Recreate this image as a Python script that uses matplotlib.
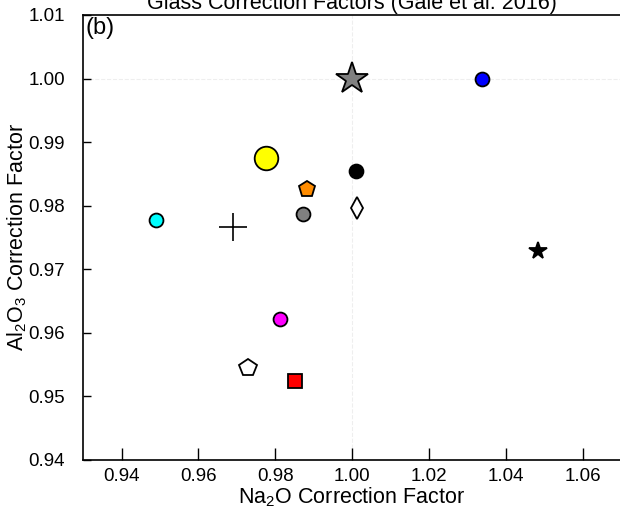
import matplotlib
matplotlib.use("Agg")
import matplotlib.pyplot as plt

plt.rcParams['font.family'] = ['Liberation Sans', 'DejaVu Sans']
plt.rcParams['mathtext.fontset'] = 'custom'
plt.rcParams['mathtext.rm'] = 'Liberation Sans'

# Glass correction factors (Na2O, Al2O3)
na2o = [1.000, 1.0338, 0.9777, 1.0010, 0.9883, 0.9873, 1.0013,
        0.9491, 0.9691, 1.0483, 0.9813, 0.9730, 0.9852]
al2o3 = [1.0000, 1.0000, 0.9875, 0.9855, 0.9826, 0.9787, 0.9797,
         0.9777, 0.9767, 0.9729, 0.9621, 0.9545, 0.9525]
markers = ['*', 'o', 'o', 'o', 'p', 'o', 'd', 'o', '+', '*', 'o', 'p', 's']
colors = ['grey', 'blue', 'yellow', 'black', 'darkorange', 'grey', 'white',
          'cyan', 'black', 'black', 'magenta', 'white', 'red']
sizes = [24, 10, 17, 10, 12, 10, 11, 10, 20, 13, 10, 13, 10]

xticks = [0.94, 0.96, 0.98, 1.00, 1.02, 1.04, 1.06]
yticks = [0.94, 0.95, 0.96, 0.97, 0.98, 0.99, 1.00, 1.01]

fig = plt.figure(figsize=(6.2, 5.08), dpi=100)
ax = fig.add_axes([0.134, 0.0945, 0.866, 0.876])

ax.axhline(1.0, color='#eeeeee', lw=0.8, ls='--', zorder=0)
ax.axvline(1.0, color='#eeeeee', lw=0.8, ls='--', zorder=0)

for x, y, m, c, s in zip(na2o, al2o3, markers, colors, sizes):
    if m == '+':
        ax.plot(x, y, marker=m, color=c, ms=s, mew=1.2, ls='none')
    else:
        ax.plot(x, y, marker=m, mfc=c, mec='black', ms=s, mew=1.3, ls='none')

ax.set_xlim(0.930, 1.0697)
ax.set_ylim(0.94, 1.01)
ax.set_xticks(xticks)
ax.set_xticklabels(['%.2f' % t for t in xticks])
ax.set_yticks(yticks)
ax.set_yticklabels(['%.2f' % t for t in yticks])
ax.tick_params(axis='x', direction='in', length=9, width=1, labelsize=13.5, pad=6)
ax.tick_params(axis='y', direction='in', length=6, width=1, labelsize=13.5, pad=13)
ax.spines['right'].set_visible(False)
for s in ['left', 'bottom', 'top']:
    ax.spines[s].set_linewidth(1.2)

ax.set_xlabel('Na$_2$O Correction Factor', fontsize=15.5, labelpad=0)
ax.set_ylabel('Al$_2$O$_3$ Correction Factor', fontsize=15.5)
ax.yaxis.set_label_coords(-0.1, 0.5)
ax.set_title('Glass Correction Factors (Gale et al. 2016)', fontsize=15.5, pad=4)
ax.text(0.004, 0.995, '(b)', transform=ax.transAxes, fontsize=17,
        ha='left', va='top')

fig.savefig('out.png', dpi=100)
